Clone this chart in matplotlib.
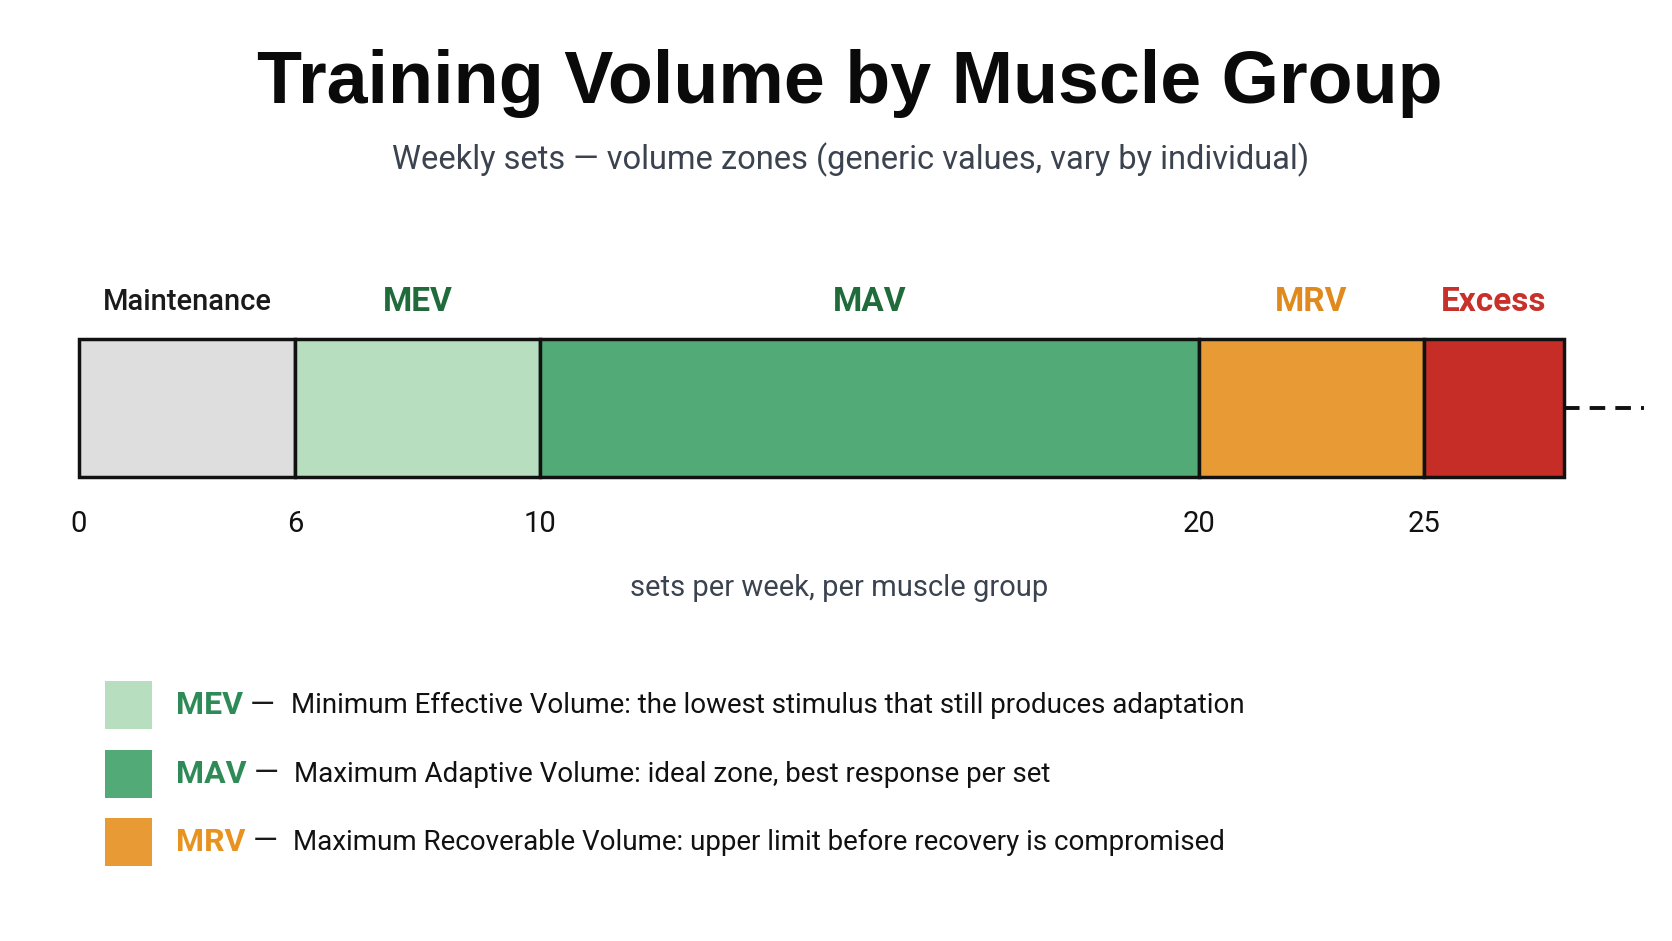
import numpy as np
import matplotlib
matplotlib.use("Agg")
import matplotlib.pyplot as plt
from matplotlib.patches import Rectangle

# zone data (sets per week)
zone_names = ["Maintenance", "MEV", "MAV", "MRV", "Excess"]
zone_edges = [0, 6, 10, 20, 25, 28]
zone_colors = ["#dedede", "#b7dfbf", "#52ab76", "#e89b35", "#c62d27"]
label_colors = ["#1a1a1a", "#1f6b3a", "#1f6b3a", "#e08a1e", "#c8302a"]
tick_values = [0, 6, 10, 20, 25]

legend_keys = ["MEV", "MAV", "MRV"]
legend_text = [
    "Minimum Effective Volume: the lowest stimulus that still produces adaptation",
    "Maximum Adaptive Volume: ideal zone, best response per set",
    "Maximum Recoverable Volume: upper limit before recovery is compromised",
]
legend_fill = ["#b7dfbf", "#52ab76", "#e89b35"]
legend_key_colors = ["#2e8b57", "#2e8b57", "#e8921f"]

# the picture spaces the zones unevenly, so the axis uses a piecewise scale
axis_pos = [0, 216, 461, 1120, 1345, 1485]


def fwd(x):
    return np.interp(x, zone_edges, axis_pos)


def inv(p):
    return np.interp(p, axis_pos, zone_edges)


W, H = 1672, 941
narrow = ["Roboto", "DejaVu Sans"]
plt.rcParams["font.family"] = ["Liberation Sans", "DejaVu Sans"]

fig = plt.figure(figsize=(W / 100, H / 100), dpi=100)
fig.patch.set_facecolor("white")

fig.text(850 / W, 1 - 84 / H, "Training Volume by Muscle Group",
         ha="center", va="center", fontsize=53, fontweight="bold", color="#0a0a0a")
fig.text(851 / W, 1 - 160 / H,
         "Weekly sets \u2014 volume zones (generic values, vary by individual)",
         ha="center", va="center", fontsize=23.5, color="#3b4350", family=narrow)

left, right, top, bottom = 79, 1564, 339, 477
ax = fig.add_axes([left / W, 1 - bottom / H, (right - left) / W, (bottom - top) / H])
ax.set_xscale("function", functions=(fwd, inv))
ax.set_xlim(zone_edges[0], zone_edges[-1])
ax.set_ylim(0, 1)

starts = zone_edges[:-1]
widths = np.diff(zone_edges)
bars = ax.barh(0.5, widths, left=starts, height=1, color=zone_colors,
               edgecolor="#111111", linewidth=2.5)
for b in bars:
    b.set_clip_on(False)

bh = bottom - top
for i, name in enumerate(zone_names):
    mid = inv((fwd(zone_edges[i]) + fwd(zone_edges[i + 1])) / 2)
    ax.text(mid, 1 + 37 / bh, name, ha="center", va="center",
            fontsize=21 if i == 0 else 24,
            fontweight="medium" if i == 0 else "bold",
            color=label_colors[i], family=narrow)

# dashed continuation to the right
ax.plot([1.0, 1 + 80 / (right - left)], [0.5, 0.5], transform=ax.transAxes,
        color="#111111", lw=2.8, ls=(0, (4, 2.6)), clip_on=False)

ax.set_xticks(tick_values)
ax.set_xticklabels([str(v) for v in tick_values], family=narrow, fontsize=21,
                   color="#111111")
ax.tick_params(axis="x", length=0, pad=24)
ax.set_yticks([])
for s in ax.spines.values():
    s.set_visible(False)
ax.set_xlabel("sets per week, per muscle group", fontsize=21, color="#3b4350",
              family=narrow)
ax.xaxis.set_label_coords((839 - left) / (right - left), (bottom - 588) / bh)
ax.xaxis.label.set_va("center")

# legend rows
row_y = [705, 774, 842]
fig.canvas.draw()
r = fig.canvas.get_renderer()
for i, key in enumerate(legend_keys):
    yc = row_y[i]
    fig.patches.append(Rectangle((105 / W, 1 - (yc + 24) / H), 47 / W, 48 / H,
                                 transform=fig.transFigure, facecolor=legend_fill[i],
                                 edgecolor="none"))
    t = fig.text(176 / W, 1 - yc / H, key, ha="left", va="center", fontsize=23,
                 fontweight="bold", color=legend_key_colors[i], family=narrow)
    x1 = t.get_window_extent(r).x1
    d = fig.text((x1 + 7) / W, 1 - yc / H, "\u2014", ha="left", va="center",
                 fontsize=23, color="#1a1a1a", family=narrow)
    x2 = d.get_window_extent(r).x1
    fig.text((x2 + 16) / W, 1 - yc / H, legend_text[i], ha="left", va="center",
             fontsize=20, color="#111111", family=narrow)

fig.savefig("out.png", dpi=100, facecolor="white")
